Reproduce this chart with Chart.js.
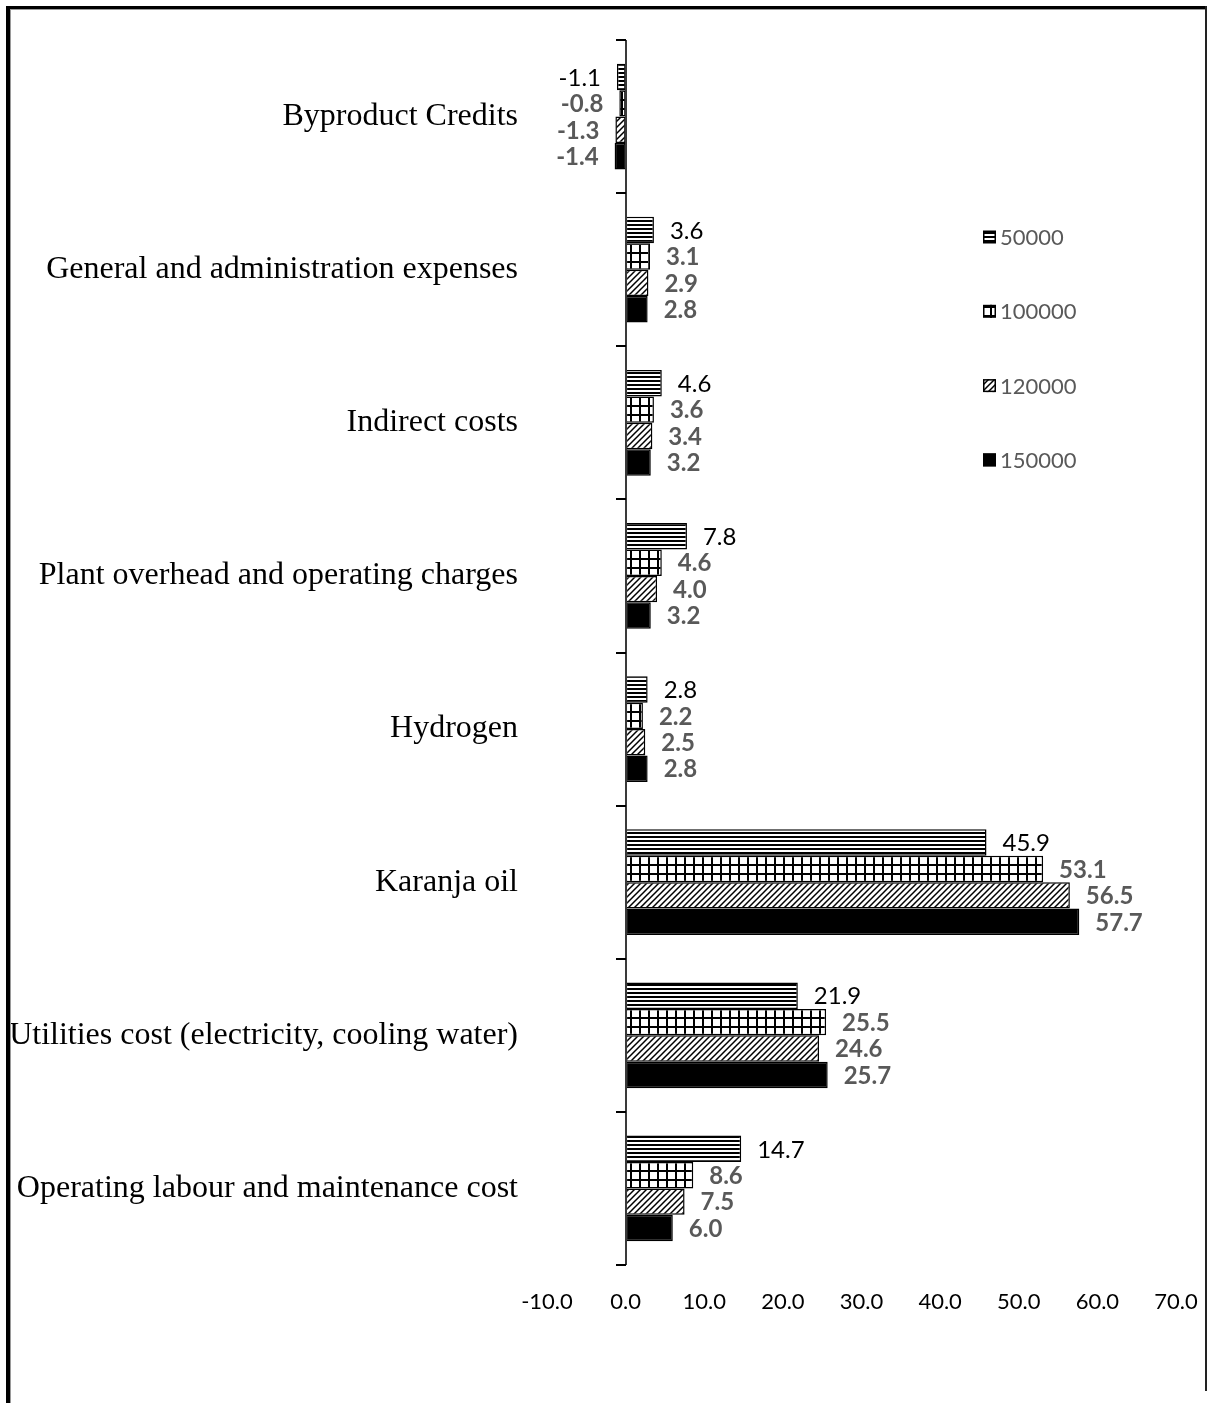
<!DOCTYPE html>
<html>
<head>
<meta charset="utf-8">
<title>Operating cost breakdown by plant capacity</title>
<script src="https://cdn.jsdelivr.net/npm/chart.js@4.4.1/dist/chart.umd.min.js"></script>
<style>
  html, body { margin: 0; padding: 0; background: #ffffff; }
  #wrap { width: 1211px; height: 1403px; position: relative; }
  canvas { display: block; }
</style>
</head>
<body>
<div id="wrap"><canvas id="chart" width="1211" height="1403"></canvas></div>
<script>
// Cost categories, listed top to bottom
const categories = [
  'Byproduct Credits',
  'General and administration expenses',
  'Indirect costs',
  'Plant overhead and operating charges',
  'Hydrogen',
  'Karanja oil',
  'Utilities cost (electricity, cooling water)',
  'Operating labour and maintenance cost'
];

// Plant capacities (series names)
const seriesNames = ['50000', '100000', '120000', '150000'];

// Cost values per capacity
const values50000  = [-1.1, 3.6, 4.6, 7.8, 2.8, 45.9, 21.9, 14.7];
const values100000 = [-0.8, 3.1, 3.6, 4.6, 2.2, 53.1, 25.5, 8.6];
const values120000 = [-1.3, 2.9, 3.4, 4.0, 2.5, 56.5, 24.6, 7.5];
const values150000 = [-1.4, 2.8, 3.2, 3.2, 2.8, 57.7, 25.7, 6.0];

// Value axis tick range
const xMin = -10;
const xMax = 70;
const xStep = 10;

const canvas = document.getElementById('chart');
const mainCtx = canvas.getContext('2d');

// Monochrome fill patterns
function makePattern(kind) {
  const t = document.createElement('canvas');
  const g = t.getContext('2d');
  if (kind === 'hlines') {
    t.width = 4; t.height = 4;
    g.fillStyle = '#fff'; g.fillRect(0, 0, 4, 4);
    g.fillStyle = '#000'; g.fillRect(0, 0, 4, 2);
  } else if (kind === 'grid') {
    t.width = 9; t.height = 9;
    g.fillStyle = '#fff'; g.fillRect(0, 0, 9, 9);
    g.fillStyle = '#000';
    g.fillRect(0, 0, 9, 2);
    g.fillRect(0, 0, 2, 9);
  } else if (kind === 'diag') {
    t.width = 6; t.height = 6;
    g.fillStyle = '#fff'; g.fillRect(0, 0, 6, 6);
    g.strokeStyle = '#000'; g.lineWidth = 1.5;
    g.beginPath();
    g.moveTo(0, 6); g.lineTo(6, 0);
    g.moveTo(-1, 1); g.lineTo(1, -1);
    g.moveTo(5, 7); g.lineTo(7, 5);
    g.stroke();
  }
  return mainCtx.createPattern(t, 'repeat');
}

const fills = [makePattern('hlines'), makePattern('grid'), makePattern('diag'), '#000000'];
const seriesValues = [values50000, values100000, values120000, values150000];

const datasets = seriesNames.map((name, i) => ({
  label: name,
  data: seriesValues[i],
  backgroundColor: fills[i],
  borderColor: '#000000',
  borderWidth: 1.5,
  borderSkipped: false,
  categoryPercentage: 0.69,
  barPercentage: 1.0
}));

const LABEL_FONT = 'Lato, "Open Sans", sans-serif';

// Value labels at the end of each bar
const valueLabels = {
  id: 'valueLabels',
  afterDatasetsDraw(chart) {
    const ctx = chart.ctx;
    chart.data.datasets.forEach((ds, i) => {
      const meta = chart.getDatasetMeta(i);
      meta.data.forEach((bar, j) => {
        const v = ds.data[j];
        ctx.save();
        ctx.font = (i === 0 ? '' : 'bold ') + '24px ' + LABEL_FONT;
        ctx.fillStyle = i === 0 ? '#000000' : '#595959';
        ctx.textBaseline = 'middle';
        if (v >= 0) {
          ctx.textAlign = 'left';
          ctx.fillText(v.toFixed(1), bar.x + 16, bar.y + 1);
        } else {
          ctx.textAlign = 'right';
          ctx.fillText(v.toFixed(1), bar.x - 16, bar.y + 1);
        }
        ctx.restore();
      });
    });
  }
};

// Category axis drawn at zero, with tick marks between categories
const zeroAxis = {
  id: 'zeroAxis',
  afterDatasetsDraw(chart) {
    const { ctx, chartArea: a, scales } = chart;
    const x0 = Math.round(scales.x.getPixelForValue(0));
    const n = chart.data.labels.length;
    const step = (a.bottom - a.top) / n;
    ctx.save();
    ctx.strokeStyle = '#3a3a3a';
    ctx.lineWidth = 2;
    ctx.beginPath();
    ctx.moveTo(x0, a.top);
    ctx.lineTo(x0, a.bottom);
    ctx.stroke();
    ctx.strokeStyle = '#000000';
    ctx.beginPath();
    for (let k = 0; k <= n; k++) {
      const yy = Math.round(a.top + k * step);
      ctx.moveTo(x0 - 10, yy);
      ctx.lineTo(x0, yy);
    }
    ctx.stroke();
    ctx.restore();
  }
};

// Vertical legend on the right of the plot
const sideLegend = {
  id: 'sideLegend',
  afterDraw(chart) {
    const ctx = chart.ctx;
    const left = 983, top = 237, gap = 74.3, box = 13;
    chart.data.datasets.forEach((ds, i) => {
      const cy = top + i * gap;
      ctx.save();
      ctx.fillStyle = ds.backgroundColor;
      ctx.fillRect(left, cy - box / 2, box, box);
      ctx.strokeStyle = '#000';
      ctx.lineWidth = 1.5;
      ctx.strokeRect(left + 0.75, cy - box / 2 + 0.75, box - 1.5, box - 1.5);
      ctx.font = '22px ' + LABEL_FONT;
      ctx.fillStyle = '#595959';
      ctx.textAlign = 'left';
      ctx.textBaseline = 'middle';
      ctx.fillText(ds.label, left + 17, cy + 1);
      ctx.restore();
    });
  }
};

// Page frame
const frame = {
  id: 'frame',
  afterDraw(chart) {
    const ctx = chart.ctx;
    ctx.save();
    ctx.fillStyle = '#000000';
    ctx.fillRect(6, 6, 4, 1403 - 6);
    ctx.fillRect(6, 6, 1201, 3);
    ctx.fillStyle = '#9a9a9a';
    ctx.fillRect(10, 9, 1, 1403 - 9);
    ctx.fillRect(10, 9, 1195, 1);
    ctx.fillStyle = '#222222';
    ctx.fillRect(1205, 6, 2, 1385);
    ctx.restore();
  }
};

// Scale boxes keep no extra edge padding of their own
function clearPadding(s) {
  s.paddingLeft = 0;
  s.paddingRight = 0;
  s.paddingTop = 0;
  s.paddingBottom = 0;
}

new Chart(canvas, {
  type: 'bar',
  data: { labels: categories, datasets },
  options: {
    indexAxis: 'y',
    responsive: false,
    animation: false,
    devicePixelRatio: 1,
    layout: { padding: { left: 0, right: 35, top: 40, bottom: 38 } },
    plugins: {
      legend: { display: false },
      tooltip: { enabled: false }
    },
    scales: {
      x: {
        min: xMin,
        max: xMax,
        grid: { display: false, drawTicks: false },
        border: { display: false },
        ticks: {
          stepSize: xStep,
          autoSkip: false,
          maxRotation: 0,
          padding: 24,
          color: '#000000',
          font: { family: LABEL_FONT, size: 22 },
          callback: (v) => Number(v).toFixed(1)
        },
        afterFit: (s) => { s.height = 100; clearPadding(s); }
      },
      y: {
        grid: { display: false, drawTicks: false },
        border: { display: false },
        ticks: {
          padding: 29,
          autoSkip: false,
          color: '#000000',
          font: { family: '"Liberation Serif", "Times New Roman", serif', size: 32 }
        },
        afterFit: (s) => { s.width = 547; clearPadding(s); }
      }
    }
  },
  plugins: [valueLabels, zeroAxis, sideLegend, frame]
});
</script>
</body>
</html>
